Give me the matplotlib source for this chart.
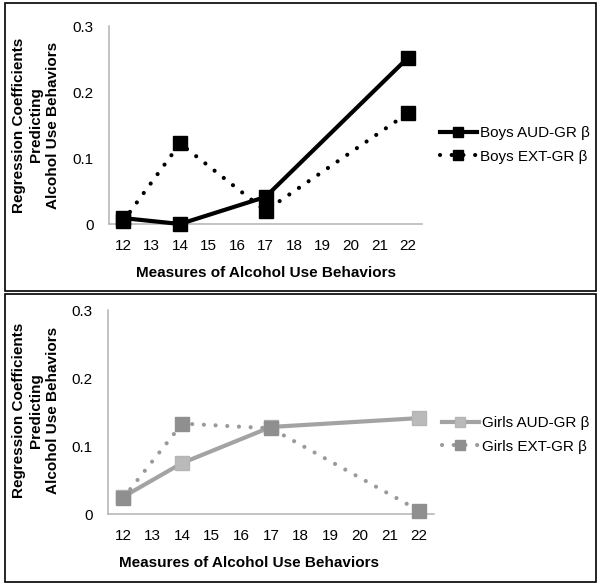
import matplotlib.pyplot as plt
from matplotlib.patches import Rectangle

plt.rcParams['font.family'] = ['Liberation Sans', 'DejaVu Sans']

# data
idades = [12, 14, 17, 22]
boys_aud = [0.009, 0.0, 0.041, 0.252]
boys_ext = [0.004, 0.122, 0.020, 0.168]
girls_aud = [0.025, 0.075, 0.128, 0.141]
girls_ext = [0.023, 0.133, 0.126, 0.005]
xticks = list(range(12, 23))
yticks = [0, 0.1, 0.2, 0.3]
ytick_labels = ['0', '0.1', '0.2', '0.3']

ylabel = 'Regression Coefficients\nPredicting\nAlcohol Use Behaviors'
xlabel = 'Measures of Alcohol Use Behaviors'

W, H = 600, 585
fig = plt.figure(figsize=(6, 5.85), dpi=100)

def px_rect(x0, y0, x1, y1):
    # pixel box (origin top-left) -> figure fraction
    return [x0 / W, 1 - y1 / H, (x1 - x0) / W, (y1 - y0) / H]

# molduras dos dois paineis
for (x0, y0, x1, y1) in [(5, 3, 596, 291), (5, 294, 596, 582)]:
    r = px_rect(x0, y0, x1, y1)
    fig.patches.append(Rectangle((r[0], r[1]), r[2], r[3], transform=fig.transFigure,
                                 fill=False, edgecolor='black', lw=1.2))

dotted = (0, (0.01, 2.8))

def estilo_eixo(ax, xlab_x, ylab_x, ylab_y, xlab_y):
    ax.set_xlim(11.5, 22.5)
    ax.set_ylim(0, 0.3)
    ax.set_xticks(xticks)
    ax.set_yticks(yticks)
    ax.set_yticklabels(ytick_labels)
    for s in ['top', 'right']:
        ax.spines[s].set_visible(False)
    for s in ['left', 'bottom']:
        ax.spines[s].set_color('#b3b3b3')
        ax.spines[s].set_linewidth(1.1)
    ax.tick_params(axis='x', length=0, pad=11, labelsize=11)
    ax.tick_params(axis='y', length=0, pad=11, labelsize=11)
    ax.set_facecolor('none')
    ax.set_ylabel(ylabel, fontsize=11, fontweight='bold', linespacing=1.25)
    ax.yaxis.set_label_coords(ylab_x, ylab_y)
    ax.yaxis.label.set_va('center')
    ax.set_xlabel(xlabel, fontsize=11, fontweight='bold')
    ax.xaxis.set_label_coords(xlab_x, xlab_y)
    ax.xaxis.label.set_va('center')

def legenda(ax, x, y):
    ax.legend(loc='center left', bbox_to_anchor=(x / W, 1 - y / H),
              bbox_transform=fig.transFigure, frameon=False, borderaxespad=0,
              borderpad=0, handlelength=2.4, handletextpad=0.25, labelspacing=0.6,
              markerscale=0.75, fontsize=11)

# ---- painel meninos ----
ax1 = fig.add_axes(px_rect(108.75, 26, 422.25, 224))
ax1.plot(idades, boys_aud, color='black', lw=3, marker='s', ms=10,
         label='Boys AUD-GR β', zorder=3, clip_on=False)
ax1.plot(idades, boys_ext, color='black', lw=3, ls=dotted, dash_capstyle='round',
         marker='s', ms=10, label='Boys EXT-GR β', zorder=4, clip_on=False)
estilo_eixo(ax1, 0.50, -0.232, 0.5, -0.246)
legenda(ax1, 440, 145)

# ---- painel meninas ----
ax2 = fig.add_axes(px_rect(108.2, 310, 433.8, 514))
ax2.plot(idades, girls_aud, color='#a3a3a3', lw=3, marker='s', ms=10,
         markerfacecolor='#bababa', markeredgecolor='#b5b5b5',
         label='Girls AUD-GR β', zorder=3, clip_on=False)
ax2.plot(idades, girls_ext, color='#9a9a9a', lw=3, ls=dotted, dash_capstyle='round',
         marker='s', ms=10, markerfacecolor='#8f8f8f', markeredgecolor='#8f8f8f',
         label='Girls EXT-GR β', zorder=4, clip_on=False)
estilo_eixo(ax2, 0.432, -0.222, 0.506, -0.239)
legenda(ax2, 442, 435)

fig.savefig('out.png', dpi=100)
